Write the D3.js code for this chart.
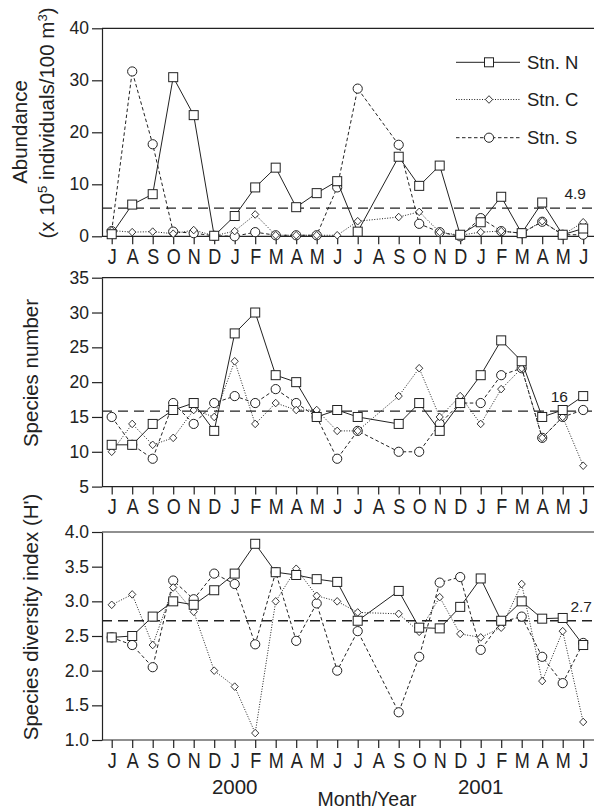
<!DOCTYPE html>
<html>
<head>
<meta charset="utf-8">
<script src="https://cdn.jsdelivr.net/npm/d3@7"></script>
<style>
  body { margin:0; background:#fff; }
  svg { display:block; font-family:"Liberation Sans", Arial, sans-serif; }
  .axis path, .axis line { stroke:#222; stroke-width:1.2; }
  .axis text { fill:#222; }
</style>
</head>
<body>
<svg id="chart" width="594" height="811"></svg>
<script>
// months Jul 1999 - Jun 2001, Aug 2000 not sampled (null)
const months = ["J","A","S","O","N","D","J","F","M","A","M","J","J","A","S","O","N","D","J","F","M","A","M","J"];
const years = [{label:"2000", month:6}, {label:"2001", month:18}];
const stations = ["Stn. N","Stn. C","Stn. S"];

const abundN = [0.4,6.1,8.1,30.6,23.3,0.1,3.9,9.4,13.2,5.6,8.3,10.6,0.9,null,15.3,9.7,13.6,0.3,2.7,7.6,0.6,6.5,0.3,1.5];
const abundC = [1.1,0.8,0.9,0.5,1.2,0.1,1.0,4.2,0.2,0.2,0.2,0.2,2.9,null,3.7,4.7,0.8,0.2,0.8,1.0,0.6,2.9,0.3,2.7];
const abundS = [1.0,31.7,17.7,0.9,0.6,0.1,0,0.8,0.2,0.2,0.2,9.4,28.4,null,17.6,2.4,0.8,0,3.5,1.0,0.6,2.8,0.3,0.3];

const specN = [11,11,14,16,17,13,27,30,21,20,15,16,15,null,14,17,13,17,21,26,23,15,16,18];
const specC = [10,14,11,12,16,15,23,14,17,16,16,13,13,null,18,22,15,18,14,19,22,12,15,8];
const specS = [15,11,9,17,14,17,18,17,19,17,15,9,13,null,10,10,14,17,17,21,22,12,15,16];

const divN = [2.48,2.5,2.78,3.0,2.95,3.16,3.4,3.83,3.42,3.38,3.32,3.28,2.72,null,3.15,2.62,2.61,2.92,3.33,2.72,3.0,2.75,2.76,2.37];
const divC = [2.95,3.1,2.37,3.2,2.85,2.0,1.77,1.1,3.0,3.47,3.08,3.0,2.84,null,2.82,2.56,3.06,2.53,2.48,2.62,3.25,1.85,2.57,1.26];
const divS = [2.48,2.37,2.05,3.3,3.03,3.4,3.25,2.38,3.42,2.43,2.97,2.0,2.57,null,1.4,2.2,3.27,3.35,2.3,2.7,2.78,2.2,1.82,2.4];

// mean lines (drawn position) and their printed labels
const meanLines = [5.4, 15.85, 2.72];
const meanLabels = ["4.9", "16", "2.7"];

const yTicks1 = [0,10,20,30,40];
const yTicks2 = [5,10,15,20,25,30,35];
const yTicks3 = [1.0,1.5,2.0,2.5,3.0,3.5,4.0];

const svg = d3.select("#chart");
const left = 102, right = 594;
const ink = "#222";

const xScale = d3.scalePoint()
    .domain(d3.range(months.length))
    .range([111.7, 583.2]);

const styles = {
    "Stn. N": {dash:null, marker:"square"},
    "Stn. C": {dash:"1,1.6", marker:"diamond"},
    "Stn. S": {dash:"3.5,2.5", marker:"circle"}
};

function drawMarker(g, type, x, y) {
    if (type==="square") {
        g.append("rect").attr("x",x-4.5).attr("y",y-4.5).attr("width",9).attr("height",9)
            .attr("fill","#fff").attr("stroke",ink).attr("stroke-width",1);
    } else if (type==="diamond") {
        g.append("path").attr("d",`M${x},${y-3.8}L${x+3.6},${y}L${x},${y+3.8}L${x-3.6},${y}Z`)
            .attr("fill","#fff").attr("stroke",ink).attr("stroke-width",0.9);
    } else {
        g.append("circle").attr("cx",x).attr("cy",y).attr("r",4.6)
            .attr("fill","#fff").attr("stroke",ink).attr("stroke-width",1);
    }
}

function panel(cfg) {
    const yScale = d3.scaleLinear().domain(cfg.domain).range(cfg.range);
    const g = svg.append("g");

    // top frame line
    g.append("line").attr("x1",left).attr("x2",right)
        .attr("y1",cfg.range[1]).attr("y2",cfg.range[1])
        .attr("stroke",ink).attr("stroke-width",1.2);

    const yAxis = d3.axisLeft(yScale)
        .tickValues(cfg.ticks)
        .tickSize(10)
        .tickSizeOuter(0)
        .tickPadding(3)
        .tickFormat(cfg.format);
    const ya = g.append("g").attr("class","axis")
        .attr("transform",`translate(${left},0)`)
        .call(yAxis);
    ya.selectAll("text").attr("font-size",17.5);

    const xAxis = d3.axisBottom(xScale)
        .tickSize(8)
        .tickSizeOuter(0)
        .tickPadding(4)
        .tickFormat((d)=> months[d]);
    const xa = g.append("g").attr("class","axis")
        .attr("transform",`translate(0,${cfg.range[0]})`)
        .call(xAxis);
    xa.select(".domain").remove();
    xa.selectAll("text").attr("font-size",22).attr("dy","0.72em")
        .attr("transform","scale(0.82,1)");
    g.append("line").attr("x1",left).attr("x2",right)
        .attr("y1",cfg.range[0]).attr("y2",cfg.range[0])
        .attr("stroke",ink).attr("stroke-width",1.2);

    // mean line
    const ym = yScale(cfg.mean);
    g.append("line").attr("x1",left).attr("x2",right)
        .attr("y1",ym).attr("y2",ym)
        .attr("stroke",ink).attr("stroke-width",1.3)
        .attr("stroke-dasharray","10,6");
    g.append("text").attr("x",cfg.meanX).attr("y",ym-9)
        .attr("text-anchor","end").attr("font-size",15.5).attr("fill",ink)
        .text(cfg.meanLabel);

    // series, S first so N sits on top
    const series = [[stations[2],cfg.s],[stations[1],cfg.c],[stations[0],cfg.n]];
    series.forEach(([name,vals])=>{
        const pts = vals.map((v,i)=>({i:i, v:v})).filter((d)=> d.v!==null);
        const lineGen = d3.line()
            .x((d)=> xScale(d.i))
            .y((d)=> yScale(d.v));
        g.append("path")
            .attr("d",lineGen(pts))
            .attr("fill","none")
            .attr("stroke",ink)
            .attr("stroke-width",1)
            .attr("stroke-dasharray",styles[name].dash);
        pts.forEach((d)=> drawMarker(g, styles[name].marker, xScale(d.i), yScale(d.v)));
    });

    // y title
    cfg.titles.forEach((t)=>{
        const tx = g.append("text")
            .attr("transform",`translate(${t.x},${t.y}) rotate(-90)`)
            .attr("text-anchor","middle")
            .attr("font-size",20.5)
            .attr("fill",ink);
        t.parts.forEach((p)=>{
            const sp = tx.append("tspan").text(p.text);
            if (p.sup) sp.attr("baseline-shift","super").attr("font-size",13);
        });
    });
    return yScale;
}

const y1 = panel({
    domain:[0,40], range:[236.3,28.3], ticks:yTicks1, format:d3.format("d"),
    n:abundN, c:abundC, s:abundS, mean:meanLines[0], meanLabel:meanLabels[0], meanX:586,
    titles:[
        {x:27, y:132, parts:[{text:"Abundance"}]},
        {x:54, y:123, parts:[{text:"(x 10"},{text:"5",sup:true},{text:" individuals/100 m"},{text:"3",sup:true},{text:")"}]}
    ]
});

panel({
    domain:[5,35], range:[486.6,277.7], ticks:yTicks2, format:d3.format("d"),
    n:specN, c:specC, s:specS, mean:meanLines[1], meanLabel:meanLabels[1], meanX:568,
    titles:[{x:38, y:373, parts:[{text:"Species number"}]}]
});

panel({
    domain:[1,4], range:[740,532], ticks:yTicks3, format:d3.format(".1f"),
    n:divN, c:divC, s:divS, mean:meanLines[2], meanLabel:meanLabels[2], meanX:592,
    titles:[{x:38, y:617, parts:[{text:"Species diversity index (H')"}]}]
});

// legend
const legend = svg.append("g");
const legY = [62.3, 99.5, 137.7];
stations.forEach((name,i)=>{
    legend.append("line").attr("x1",456).attr("x2",520)
        .attr("y1",legY[i]).attr("y2",legY[i])
        .attr("stroke",ink).attr("stroke-width",1)
        .attr("stroke-dasharray",styles[name].dash);
    drawMarker(legend, styles[name].marker, 489, legY[i]);
    legend.append("text").attr("x",527).attr("y",legY[i]+6.5)
        .attr("font-size",18.5).attr("fill",ink).text(name);
});

// year labels and x title
svg.selectAll(".year").data(years).enter()
    .append("text")
    .attr("class","year")
    .attr("x",(d)=> xScale(d.month))
    .attr("y",794)
    .attr("text-anchor","middle")
    .attr("font-size",20.5)
    .attr("fill",ink)
    .text((d)=> d.label);

svg.append("text").attr("x",367).attr("y",806)
    .attr("text-anchor","middle").attr("font-size",19.5)
    .attr("fill",ink).text("Month/Year");
</script>
</body>
</html>
